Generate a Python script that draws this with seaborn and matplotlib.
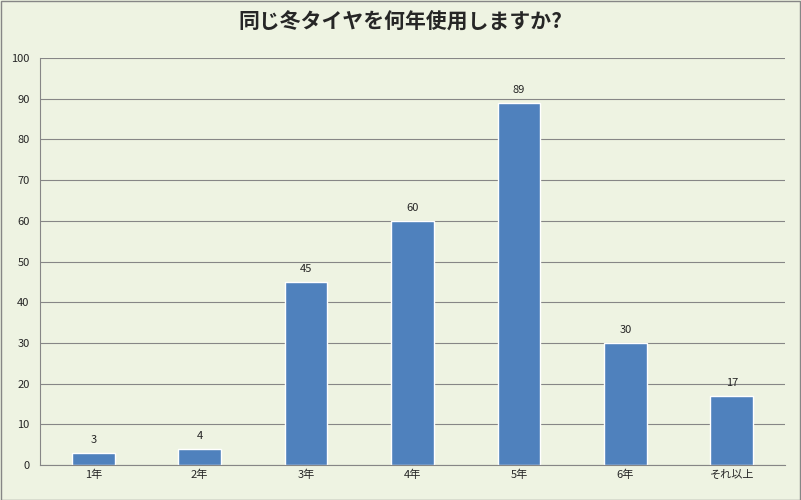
import matplotlib
matplotlib.use("Agg")
import matplotlib.pyplot as plt
import seaborn as sns
import pandas as pd

categories = ["1年", "2年", "3年", "4年", "5年", "6年", "それ以上"]
values = [3, 4, 45, 60, 89, 30, 17]
title = "同じ冬タイヤを何年使用しますか?"

sns.set_style("white")
plt.rcParams['font.family'] = ['Noto Sans CJK JP', 'DejaVu Sans']

bg = "#EEF3E2"
fig = plt.figure(figsize=(8.01, 5.0), dpi=100, facecolor=bg)
ax = fig.add_axes([0.05, 0.07, 0.93, 0.814])
ax.set_facecolor(bg)

df = pd.DataFrame({"cat": categories, "val": values})
sns.barplot(data=df, x="cat", y="val", color="#4F81BD", saturation=1, width=0.4, ax=ax)

for i, v in enumerate(values):
    ax.text(i, v + 2, str(v), ha="center", va="bottom", fontsize=8)

ax.set_ylim(0, 100)
ax.set_yticks(range(0, 101, 10))
ax.yaxis.grid(True, color="#868686", linewidth=0.8)
ax.set_axisbelow(True)
ax.set_xlabel("")
ax.set_ylabel("")
ax.tick_params(axis="both", labelsize=8, length=4, color="#868686")
ax.tick_params(axis="x", length=0)
for s in ["top", "right"]:
    ax.spines[s].set_visible(False)
for s in ["left", "bottom"]:
    ax.spines[s].set_color("#868686")
ax.set_xticks([i + 0.5 for i in range(len(categories))], minor=True)
ax.tick_params(axis="x", which="minor", length=4, color="#868686")

fig.text(0.5, 0.955, title, ha="center", va="center", fontsize=15, fontweight="bold")
fig.patches.append(plt.Rectangle((0.001, 0.001), 0.998, 0.997, transform=fig.transFigure,
                                 fill=False, edgecolor="#868686", linewidth=1))
fig.savefig("out.png", dpi=100, facecolor=bg)
